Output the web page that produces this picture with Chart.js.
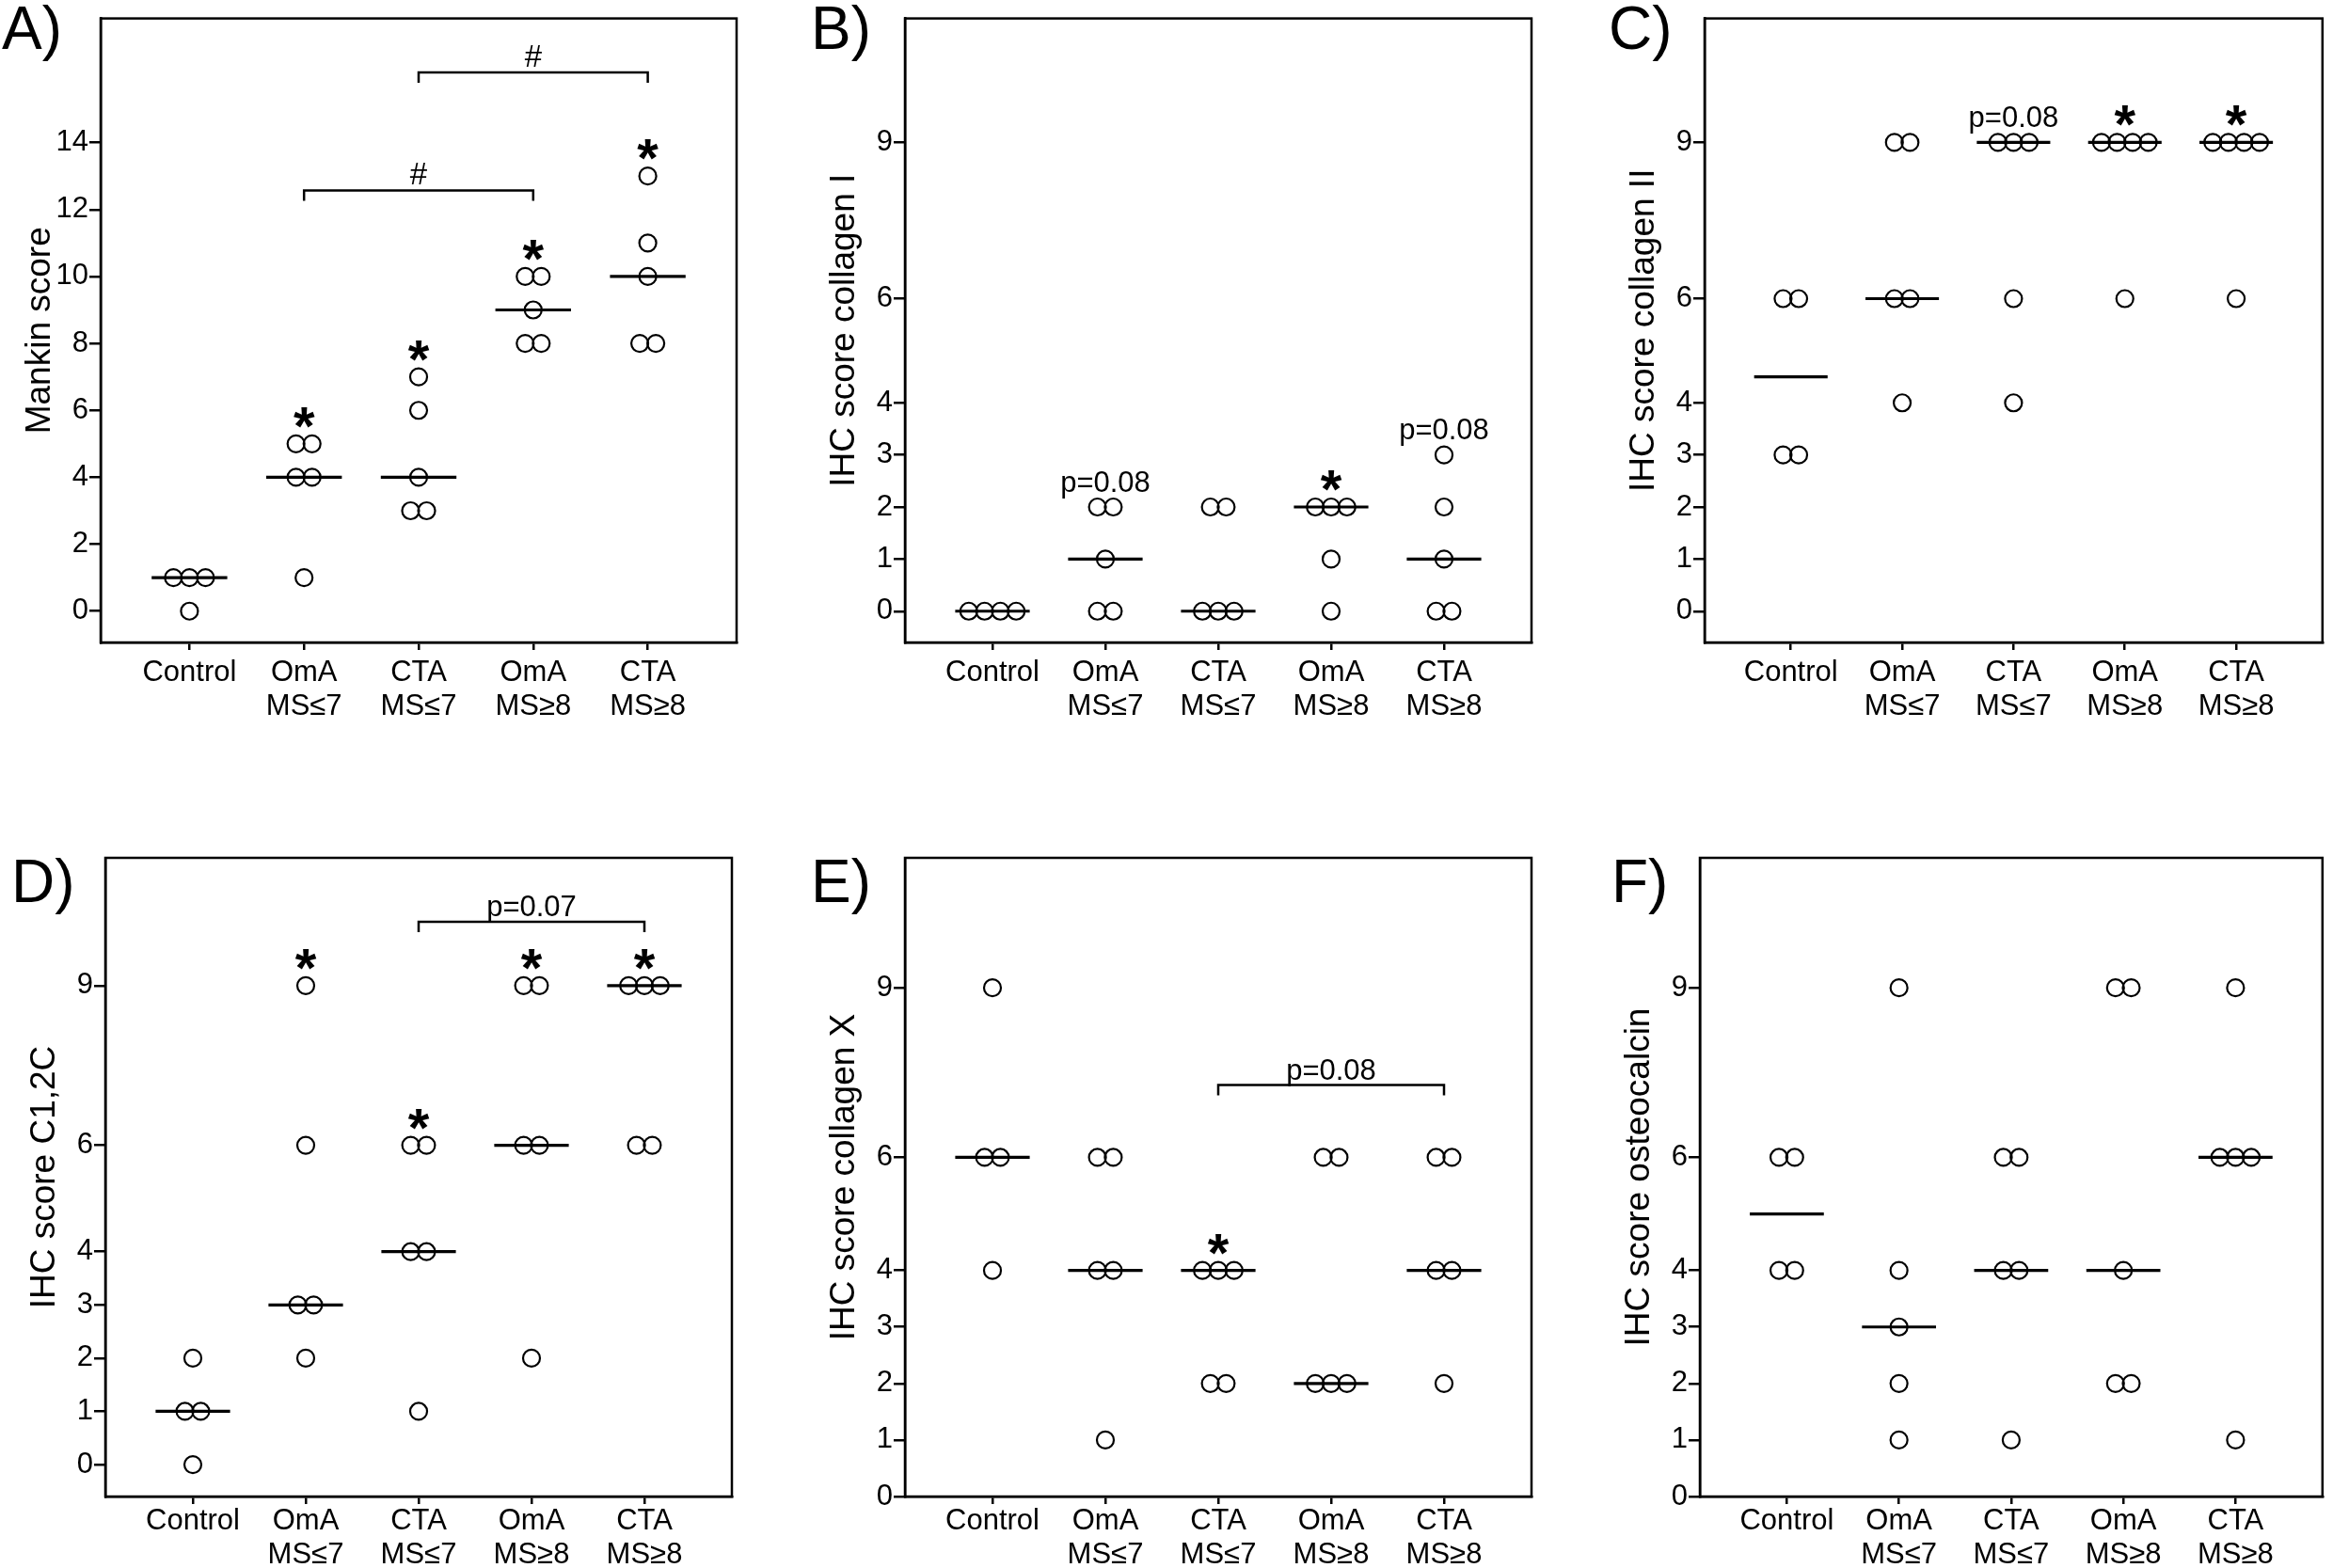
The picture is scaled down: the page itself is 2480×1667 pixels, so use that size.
<!DOCTYPE html>
<html>
<head>
<meta charset="utf-8">
<script src="https://cdn.jsdelivr.net/npm/chart.js@4.4.1/dist/chart.umd.min.js"></script>
<style>
  body { margin: 0; background: #fff; width: 2480px; height: 1667px; overflow: hidden; position: relative; }
  canvas { position: absolute; }
</style>
</head>
<body>
<canvas id="cA"></canvas>
<canvas id="cB"></canvas>
<canvas id="cC"></canvas>
<canvas id="cD"></canvas>
<canvas id="cE"></canvas>
<canvas id="cF"></canvas>
<script>
// group names on the x axis
const groups = ['Control', ['OmA', 'MS\u22647'], ['CTA', 'MS\u22647'], ['OmA', 'MS\u22658'], ['CTA', 'MS\u22658']];

// tick labels
const mankinTicks = [0, 2, 4, 6, 8, 10, 12, 14];
const ihcTicks = [0, 1, 2, 3, 4, 6, 9];

// A) Mankin score
const mankinScore = [[1, 1, 1, 0], [5, 5, 4, 4, 1], [7, 6, 4, 3, 3], [10, 10, 9, 8, 8], [13, 11, 10, 8, 8]];
const mankinMedian = [1, 4, 4, 9, 10];
const mankinMarks = ['', '*', '*', '*', '*'];
const mankinBrackets = [[1, 3, 12.57, '#'], [2, 4, 16.1, '#']];

// B) IHC score collagen I
const col1Score = [[0, 0, 0, 0], [2, 2, 1, 0, 0], [2, 2, 0, 0, 0], [2, 2, 2, 1, 0], [3, 2, 1, 0, 0]];
const col1Median = [0, 1, 0, 2, 1];
const col1Marks = ['', 'p=0.08', '', '*', 'p=0.08'];
const col1Brackets = [];

// C) IHC score collagen II
const col2Score = [[6, 6, 3, 3], [9, 9, 6, 6, 4], [9, 9, 9, 6, 4], [9, 9, 9, 9, 6], [9, 9, 9, 9, 6]];
const col2Median = [4.5, 6, 9, 9, 9];
const col2Marks = ['', '', 'p=0.08', '*', '*'];
const col2Brackets = [];

// D) IHC score C1,2C
const c12cScore = [[2, 1, 1, 0], [9, 6, 3, 3, 2], [6, 6, 4, 4, 1], [9, 9, 6, 6, 2], [9, 9, 9, 6, 6]];
const c12cMedian = [1, 3, 4, 6, 9];
const c12cMarks = ['', '*', '*', '*', '*'];
const c12cBrackets = [[2, 4, 10.2, 'p=0.07']];

// E) IHC score collagen X
const colXScore = [[9, 6, 6, 4], [6, 6, 4, 4, 1], [4, 4, 4, 2, 2], [6, 6, 2, 2, 2], [6, 6, 4, 4, 2]];
const colXMedian = [6, 4, 4, 2, 4];
const colXMarks = ['', '', '*', '', ''];
const colXBrackets = [[2, 4, 7.28, 'p=0.08']];

// F) IHC score osteocalcin
const osteoScore = [[6, 6, 4, 4], [9, 4, 3, 2, 1], [6, 6, 4, 4, 1], [9, 9, 4, 2, 2], [9, 6, 6, 6, 1]];
const osteoMedian = [5, 3, 4, 4, 6];
const osteoMarks = ['', '', '', '', ''];
const osteoBrackets = [];

const FONT = "'Liberation Sans', Arial, Helvetica, sans-serif";

const panels = [
  { id: 'cA', letter: 'A)', title: 'Mankin score', values: mankinScore, medians: mankinMedian, marks: mankinMarks, brackets: mankinBrackets,
    ticks: mankinTicks, ymin: -0.935, ymax: 17.71, canvas: [0, 0, 800, 820], box: [107, 5, 783, 683], letterPos: [2, 52], labelPad: 6 },
  { id: 'cB', letter: 'B)', title: 'IHC score collagen I', values: col1Score, medians: col1Median, marks: col1Marks, brackets: col1Brackets,
    ticks: ihcTicks, ymin: -0.6, ymax: 11.38, canvas: [830, 0, 810, 820], box: [962, 5, 1628, 683], letterPos: [862, 52], labelPad: 6 },
  { id: 'cC', letter: 'C)', title: 'IHC score collagen II', values: col2Score, medians: col2Median, marks: col2Marks, brackets: col2Brackets,
    ticks: ihcTicks, ymin: -0.6, ymax: 11.38, canvas: [1660, 0, 820, 820], box: [1812, 5, 2478, 683], letterPos: [1710, 52], labelPad: 6 },
  { id: 'cD', letter: 'D)', title: 'IHC score C1,2C', values: c12cScore, medians: c12cMedian, marks: c12cMarks, brackets: c12cBrackets,
    ticks: ihcTicks, ymin: -0.6, ymax: 11.4, canvas: [0, 880, 800, 787], box: [112, 912, 778, 1591], letterPos: [12, 959], labelPad: 0 },
  { id: 'cE', letter: 'E)', title: 'IHC score collagen X', values: colXScore, medians: colXMedian, marks: colXMarks, brackets: colXBrackets,
    ticks: ihcTicks, ymin: 0, ymax: 11.3, canvas: [830, 880, 810, 787], box: [962, 912, 1628, 1591], letterPos: [862, 959], labelPad: 0 },
  { id: 'cF', letter: 'F)', title: 'IHC score osteocalcin', values: osteoScore, medians: osteoMedian, marks: osteoMarks, brackets: osteoBrackets,
    ticks: ihcTicks, ymin: 0, ymax: 11.3, canvas: [1660, 880, 820, 787], box: [1807, 912, 2478, 1591], letterPos: [1713, 959], labelPad: 0 },
];

// spread equal values side by side, like the original dot plot
function jitterPoints(values) {
  const pts = [];
  values.forEach((vals, g) => {
    const counts = {};
    vals.forEach(v => { counts[v] = (counts[v] || 0) + 1; });
    Object.keys(counts).forEach(k => {
      const n = counts[k];
      for (let j = 0; j < n; j++) {
        pts.push({ x: g + (j - (n - 1) / 2) * 0.14, y: parseFloat(k) });
      }
    });
  });
  return pts;
}

const extrasPlugin = {
  id: 'extras',
  afterDraw(chart, args, opts) {
    const ctx = chart.ctx;
    const a = chart.chartArea;
    const xs = chart.scales.x, ys = chart.scales.y;
    ctx.save();
    ctx.strokeStyle = '#000';
    ctx.lineWidth = 2.5;
    ctx.strokeRect(a.left, a.top, a.right - a.left, a.bottom - a.top);

    ctx.fillStyle = '#000';
    ctx.textAlign = 'center';
    // stars and p values above groups
    opts.marks.forEach((m, g) => {
      if (!m) return;
      const top = Math.max(...opts.values[g]);
      const cx = xs.getPixelForValue(g);
      if (m === '*') {
        const cy = ys.getPixelForValue(top) - 28;
        ctx.font = 'bold 58px ' + FONT;
        ctx.textBaseline = 'alphabetic';
        const mt = ctx.measureText(m);
        ctx.fillText(m, cx, cy + (mt.actualBoundingBoxAscent - mt.actualBoundingBoxDescent) / 2);
      } else {
        const cy = ys.getPixelForValue(top) - 25;
        ctx.font = '31px ' + FONT;
        ctx.textBaseline = 'middle';
        ctx.fillText(m, cx, cy);
      }
    });
    // brackets between groups
    opts.brackets.forEach(([g1, g2, level, label]) => {
      const x1 = xs.getPixelForValue(g1), x2 = xs.getPixelForValue(g2);
      const y = ys.getPixelForValue(level);
      ctx.lineWidth = 2.5;
      ctx.beginPath();
      ctx.moveTo(x1, y + 11);
      ctx.lineTo(x1, y);
      ctx.lineTo(x2, y);
      ctx.lineTo(x2, y + 11);
      ctx.stroke();
      ctx.font = (label === '#' ? '33px ' : '31px ') + FONT;
      ctx.textBaseline = 'alphabetic';
      ctx.fillText(label, (x1 + x2) / 2, y - 6);
    });
    // panel letter
    ctx.font = '64px ' + FONT;
    ctx.textAlign = 'left';
    ctx.textBaseline = 'alphabetic';
    ctx.fillText(opts.letter, opts.letterPos[0] - opts.canvas[0], opts.letterPos[1] - opts.canvas[1]);
    ctx.restore();
  }
};

panels.forEach(p => {
  const cv = document.getElementById(p.id);
  const [cl, ct, cw, ch] = p.canvas;
  const [bl, bt, br, bb] = p.box;
  cv.style.left = cl + 'px';
  cv.style.top = ct + 'px';
  cv.width = cw;
  cv.height = ch;

  const datasets = [{
    data: jitterPoints(p.values),
    pointRadius: 9,
    pointBorderWidth: 2.2,
    pointBorderColor: '#000',
    pointBackgroundColor: 'rgba(255,255,255,0)',
    showLine: false,
  }];
  p.medians.forEach((m, g) => {
    datasets.push({
      data: [{ x: g - 0.33, y: m }, { x: g + 0.33, y: m }],
      showLine: true,
      borderColor: '#000',
      borderWidth: 3.2,
      pointRadius: 0,
    });
  });

  new Chart(cv, {
    type: 'scatter',
    data: { datasets },
    options: {
      responsive: false,
      animation: false,
      devicePixelRatio: 1,
      layout: { padding: { left: 0, top: bt - ct, right: cl + cw - br, bottom: 0 } },
      plugins: {
        legend: { display: false },
        tooltip: { enabled: false },
        extras: { marks: p.marks, brackets: p.brackets, values: p.values, letter: p.letter, letterPos: p.letterPos, canvas: p.canvas },
      },
      scales: {
        x: {
          type: 'linear',
          min: -0.775,
          max: 4.775,
          afterBuildTicks: s => { s.ticks = groups.map((_, i) => ({ value: i })); },
          afterFit: s => { s.height = ct + ch - bb; },
          ticks: {
            autoSkip: false, maxRotation: 0, color: '#000', padding: p.labelPad,
            font: { family: FONT, size: 31, lineHeight: 1.17 },
            callback: v => groups[v],
          },
          grid: { drawOnChartArea: false, drawTicks: true, tickLength: 8, color: '#000', lineWidth: 2.5 },
          border: { display: true, color: '#000', width: 2.5 },
        },
        y: {
          type: 'linear',
          min: p.ymin,
          max: p.ymax,
          afterBuildTicks: s => { s.ticks = p.ticks.map(v => ({ value: v })); },
          afterFit: s => { s.width = bl - cl; },
          ticks: { autoSkip: false, color: '#000', padding: 1, font: { family: FONT, size: 31 } },
          grid: { drawOnChartArea: false, drawTicks: true, tickLength: 12, color: '#000', lineWidth: 2.5 },
          border: { display: true, color: '#000', width: 2.5 },
          title: {
            display: true, text: p.title, color: '#000',
            font: { family: FONT, size: 37, lineHeight: 1.2 },
            padding: { top: (bl - 64 - cl) - (37 * 1.2) / 2, bottom: 0 },
          },
        },
      },
    },
    plugins: [extrasPlugin],
  });
});
</script>
</body>
</html>
